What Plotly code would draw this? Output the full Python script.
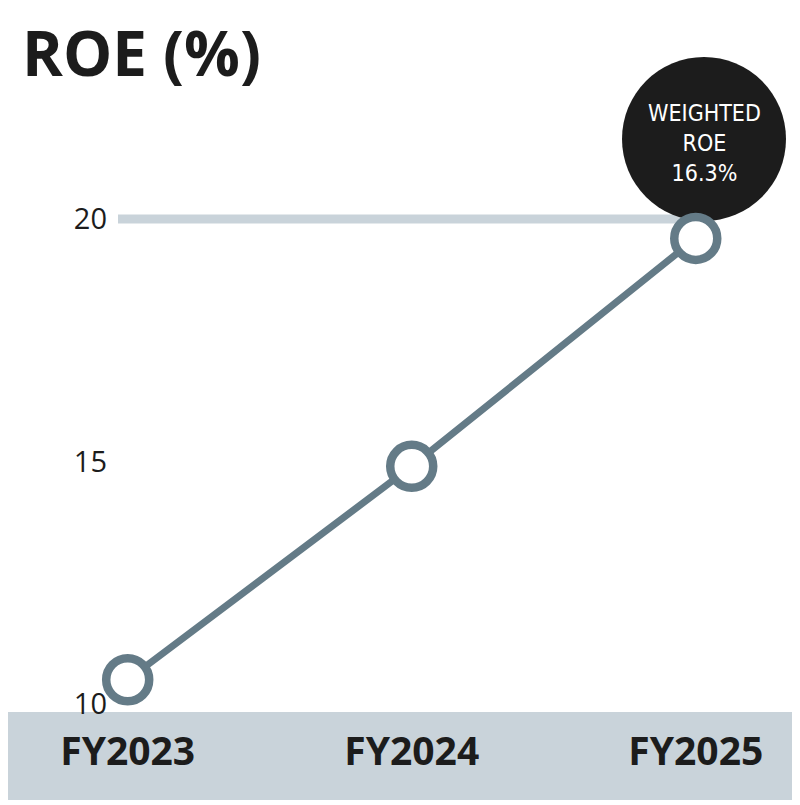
import plotly.graph_objects as go

# ---- data ----
years = ["FY2023", "FY2024", "FY2025"]
roe = [10.5, 14.9, 19.6]
weighted_roe = 16.3
y_ticks = [10, 15, 20]
title_text = "ROE (%)"

LINE_C = "#647b87"
BAND_C = "#c9d3da"
INK = "#1c1c1c"

S = 8                      # page body margin offset
W, H = 792, 797
L, R, T, B = 102, 0, 92, 95
PW, PH = W - L - R, H - T - B

def px_x(p):  # screen pixel -> paper x
    return (p - S - L) / PW

def px_y(p):  # screen pixel -> paper y
    return (H - B - (p - S)) / PH

fig = go.Figure()
fig.add_trace(go.Scatter(
    x=years, y=roe, mode="lines+markers",
    line=dict(color=LINE_C, width=7),
    marker=dict(size=43, color="white", line=dict(color=LINE_C, width=8.5)),
    cliponaxis=False, hoverinfo="skip", showlegend=False,
))

shapes = [
    # bottom band
    dict(type="rect", xref="paper", yref="paper", layer="below",
         x0=px_x(5), x1=px_x(795), y0=px_y(800), y1=px_y(712),
         fillcolor=BAND_C, line=dict(width=0)),
    # reference line at 20
    dict(type="line", xref="paper", yref="y", layer="below",
         x0=px_x(118), x1=px_x(700), y0=20, y1=20,
         line=dict(color=BAND_C, width=9)),
    # black circle badge
    dict(type="circle", xref="paper", yref="paper", layer="below",
         xsizemode="pixel", ysizemode="pixel",
         xanchor=px_x(704), yanchor=px_y(139),
         x0=-82, x1=82, y0=-82, y1=82,
         fillcolor="#1c1c1c", line=dict(width=0)),
]

annotations = [
    dict(text=f"<b>{title_text}</b>", xref="paper", yref="paper",
         x=px_x(20), y=px_y(52), xanchor="left", yanchor="middle",
         showarrow=False, font=dict(family="Open Sans", size=62, color=INK)),
    dict(text=f"WEIGHTED<br>ROE<br>{weighted_roe}%", xref="paper", yref="paper",
         x=px_x(704), y=px_y(143), xanchor="center", yanchor="middle",
         showarrow=False, align="center",
         font=dict(family="DejaVu Sans Condensed, Roboto", size=23, color="white")),
]

fig.update_layout(
    width=W, height=H,
    margin=dict(l=L, r=R, t=T, b=B),
    paper_bgcolor="white", plot_bgcolor="rgba(0,0,0,0)",
    shapes=shapes, annotations=annotations,
    xaxis=dict(type="category", range=[-0.0623, 2.367],
               showgrid=False, zeroline=False, showline=False,
               ticks="", ticklabelstandoff=15,
               tickfont=dict(family="Open Sans", size=39, color=INK, weight="bold")),
    yaxis=dict(range=[9.876, 22.454], tickvals=y_ticks,
               showgrid=False, zeroline=False, showline=False,
               ticks="", ticklabelstandoff=2,
               tickfont=dict(family="Open Sans", size=29, color=INK)),
)

fig.write_html("out.html")
